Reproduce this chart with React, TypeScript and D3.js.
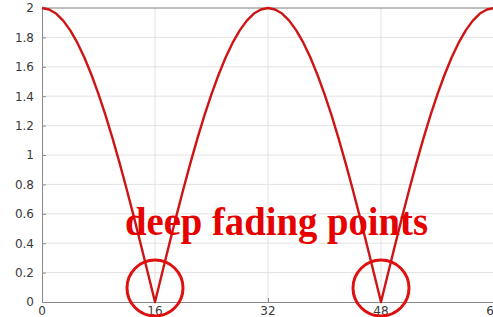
import * as d3 from 'd3';
import React, { useEffect, useRef } from 'react';

const gainValues: number[] = [
  2, 1.99, 1.962, 1.914, 1.848, 1.764, 1.663, 1.546, 1.414, 1.269, 1.111, 0.943, 0.765, 0.581, 0.39, 0.196,
  0, 0.196, 0.39, 0.581, 0.765, 0.943, 1.111, 1.269, 1.414, 1.546, 1.663, 1.764, 1.848, 1.914, 1.962, 1.99,
  2, 1.99, 1.962, 1.914, 1.848, 1.764, 1.663, 1.546, 1.414, 1.269, 1.111, 0.943, 0.765, 0.581, 0.39, 0.196,
  0, 0.196, 0.39, 0.581, 0.765, 0.943, 1.111, 1.269, 1.414, 1.546, 1.663, 1.764, 1.848, 1.914, 1.962, 1.99,
  2,
];
const xTicks: number[] = [0, 16, 32, 48, 64];
const yTicks: number[] = [0, 0.2, 0.4, 0.6, 0.8, 1, 1.2, 1.4, 1.6, 1.8, 2];
const fadingPoints: number[] = [16, 48];
const annotation = 'deep fading points';

const width = 493;
const height = 317;

export default function App() {
  const ref = useRef<SVGSVGElement>(null);

  useEffect(() => {
    const svg = d3.select(ref.current);
    svg.selectAll('*').remove();

    const x = d3.scaleLinear().domain([0, 64]).range([42, 494]);
    const y = d3.scaleLinear().domain([0, 2]).range([302, 8]);

    // grid
    const grid = svg.append('g').attr('stroke', '#e2e2e2').attr('stroke-width', 1);
    grid
      .selectAll('line.h')
      .data(yTicks.slice(1))
      .join('line')
      .attr('x1', x(0))
      .attr('x2', x(64))
      .attr('y1', (d) => y(d))
      .attr('y2', (d) => y(d));
    grid
      .selectAll('line.v')
      .data(xTicks.slice(1))
      .join('line')
      .attr('x1', (d) => x(d))
      .attr('x2', (d) => x(d))
      .attr('y1', y(0))
      .attr('y2', y(2));

    // axes (ticks pointing inward)
    const yAxis = svg
      .append('g')
      .attr('transform', `translate(${x(0)},0)`)
      .call(d3.axisRight(y).tickValues(yTicks).tickSize(4).tickFormat(() => ''));
    yAxis.select('.domain').attr('stroke', '#8a8a8a');
    yAxis.selectAll('.tick line').attr('stroke', '#8a8a8a');

    const xAxis = svg
      .append('g')
      .attr('transform', `translate(0,${y(0)})`)
      .call(d3.axisTop(x).tickValues(xTicks).tickSize(4).tickFormat(() => ''));
    xAxis.select('.domain').attr('stroke', '#8a8a8a');
    xAxis.selectAll('.tick line').attr('stroke', '#8a8a8a');

    svg
      .append('line')
      .attr('x1', x(0))
      .attr('x2', x(64))
      .attr('y1', y(2))
      .attr('y2', y(2))
      .attr('stroke', '#8a8a8a');

    // tick labels
    svg
      .append('g')
      .attr('font-family', 'DejaVu Sans, sans-serif')
      .attr('font-size', 12)
      .attr('fill', '#3a3a3a')
      .attr('text-anchor', 'end')
      .selectAll('text')
      .data(yTicks)
      .join('text')
      .attr('x', x(0) - 8)
      .attr('y', (d) => y(d))
      .attr('dy', '0.36em')
      .text((d) => d3.format('~g')(d));

    svg
      .append('g')
      .attr('font-family', 'DejaVu Sans, sans-serif')
      .attr('font-size', 12)
      .attr('fill', '#3a3a3a')
      .attr('text-anchor', 'middle')
      .selectAll('text')
      .data(xTicks)
      .join('text')
      .attr('x', (d) => x(d))
      .attr('y', y(0) + 13)
      .text((d) => String(d));

    // curve
    const line = d3
      .line<number>()
      .x((_, i) => x(i))
      .y((d) => y(d));
    svg
      .append('path')
      .datum(gainValues)
      .attr('fill', 'none')
      .attr('stroke', '#cf1414')
      .attr('stroke-width', 2.4)
      .attr('stroke-linejoin', 'round')
      .attr('d', line);

    // circles round the nulls
    svg
      .append('g')
      .selectAll('circle')
      .data(fadingPoints)
      .join('circle')
      .attr('cx', (d) => x(d))
      .attr('cy', y(0) - 14)
      .attr('r', 28)
      .attr('fill', 'none')
      .attr('stroke', '#e01010')
      .attr('stroke-width', 3);

    svg
      .append('text')
      .attr('x', x(11.75))
      .attr('y', y(0.455))
      .attr('font-family', 'Liberation Serif, Times New Roman, serif')
      .attr('font-weight', 'bold')
      .attr('font-size', 39)
      .attr('fill', '#e60000')
      .attr('textLength', 303)
      .attr('lengthAdjust', 'spacingAndGlyphs')
      .text(annotation);
  }, []);

  return (
    <svg
      ref={ref}
      width={width}
      height={height}
      style={{ position: 'absolute', left: 0, top: 0, background: '#fff' }}
    />
  );
}
